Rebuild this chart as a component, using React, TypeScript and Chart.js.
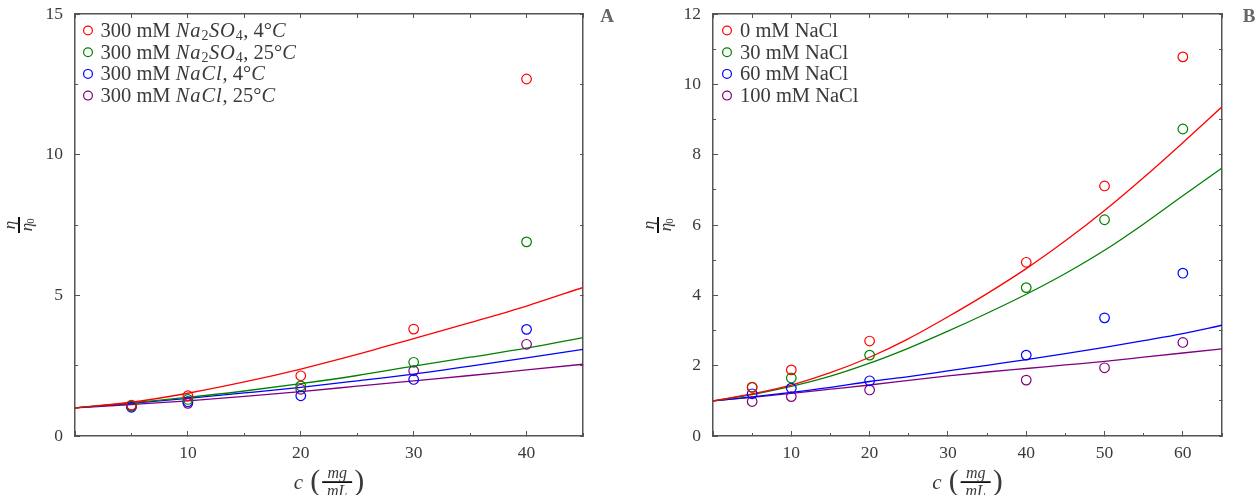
import React, { useEffect, useRef } from "react";
import { Chart, registerables } from "chart.js";
Chart.register(...registerables);

const FONT = "'Liberation Serif', 'DejaVu Serif', serif";
const TEXT = "#3a3a3a";
const FRAME = "#555555";
const colors = ["#ff0000", "#008000", "#0000ff", "#800080"];

// ---------- Panel A data ----------
const concA = [5, 10, 20, 30, 40];
const ptsA_na2so4_4C = [1.1, 1.43, 2.14, 3.8, 12.69];
const ptsA_na2so4_25C = [1.07, 1.3, 1.78, 2.62, 6.9];
const ptsA_nacl_4C = [1.02, 1.22, 1.43, 2.01, 3.79];
const ptsA_nacl_25C = [1.06, 1.16, 1.66, 2.32, 3.26];
const fitXA = [0, 5, 10, 15, 20, 25, 30, 35, 40, 45];
const fitA_na2so4_4C = [1.0, 1.2, 1.52, 1.92, 2.38, 2.9, 3.46, 4.03, 4.62, 5.28];
const fitA_na2so4_25C = [1.0, 1.18, 1.37, 1.6, 1.86, 2.15, 2.48, 2.8, 3.12, 3.5];
const fitA_nacl_4C = [1.0, 1.16, 1.34, 1.53, 1.73, 1.96, 2.2, 2.48, 2.78, 3.08];
const fitA_nacl_25C = [1.0, 1.12, 1.25, 1.41, 1.58, 1.77, 1.96, 2.15, 2.35, 2.55];

// ---------- Panel B data ----------
const concB = [5, 10, 20, 40, 50, 60];
const ptsB_0 = [1.38, 1.88, 2.7, 4.94, 7.11, 10.78];
const ptsB_30 = [1.39, 1.65, 2.3, 4.22, 6.15, 8.73];
const ptsB_60 = [1.2, 1.36, 1.57, 2.3, 3.36, 4.63];
const ptsB_100 = [0.98, 1.12, 1.31, 1.59, 1.94, 2.66];
const fitXB = [0, 5, 10, 15, 20, 25, 30, 35, 40, 45, 50, 55, 60, 65];
const fitB_0 = [1.0, 1.2, 1.45, 1.8, 2.24, 2.77, 3.39, 4.05, 4.76, 5.55, 6.41, 7.35, 8.34, 9.36];
const fitB_30 = [1.0, 1.18, 1.41, 1.7, 2.07, 2.5, 2.98, 3.49, 4.03, 4.62, 5.28, 6.03, 6.83, 7.62];
const fitB_60 = [1.0, 1.11, 1.24, 1.38, 1.55, 1.69, 1.85, 2.01, 2.17, 2.34, 2.52, 2.71, 2.91, 3.15];
const fitB_100 = [1.0, 1.1, 1.21, 1.33, 1.45, 1.58, 1.71, 1.82, 1.92, 2.02, 2.12, 2.24, 2.36, 2.48];

// ---------- Axis ticks ----------
const xTicksA = { max: 45, major: 10, minor: 5 };
const yTicksA = { max: 15, major: 5, minor: 2.5 };
const xTicksB = { max: 65, major: 10, minor: 5 };
const yTicksB = { max: 12, major: 2, minor: 1 };

// ---------- Legend labels (r = roman, i = italic, s = subscript) ----------
type Seg = [string, "r" | "i" | "s"];
const legendA: Seg[][] = [
  [["300 mM ", "r"], ["Na", "i"], ["2", "s"], ["SO", "i"], ["4", "s"], [", 4°", "r"], ["C", "i"]],
  [["300 mM ", "r"], ["Na", "i"], ["2", "s"], ["SO", "i"], ["4", "s"], [", 25°", "r"], ["C", "i"]],
  [["300 mM ", "r"], ["NaCl", "i"], [", 4°", "r"], ["C", "i"]],
  [["300 mM ", "r"], ["NaCl", "i"], [", 25°", "r"], ["C", "i"]],
];
const legendB: Seg[][] = [
  [["0 mM NaCl", "r"]],
  [["30 mM NaCl", "r"]],
  [["60 mM NaCl", "r"]],
  [["100 mM NaCl", "r"]],
];

interface Panel {
  x: number[];
  pts: number[][];
  fitX: number[];
  fits: number[][];
  xt: { max: number; major: number; minor: number };
  yt: { max: number; major: number; minor: number };
  legend: Seg[][];
  letter: string;
  yAxisWidth: number;
  padRight: number;
  yTitleX: number;
  legendX: number;
  textX: number;
  letterX: number;
}

const panelA: Panel = {
  x: concA,
  pts: [ptsA_na2so4_4C, ptsA_na2so4_25C, ptsA_nacl_4C, ptsA_nacl_25C],
  fitX: fitXA,
  fits: [fitA_na2so4_4C, fitA_na2so4_25C, fitA_nacl_4C, fitA_nacl_25C],
  xt: xTicksA,
  yt: yTicksA,
  legend: legendA,
  letter: "A",
  yAxisWidth: 75,
  padRight: 47,
  yTitleX: 19,
  legendX: 88,
  textX: 100.5,
  letterX: 607,
};

const panelB: Panel = {
  x: concB,
  pts: [ptsB_0, ptsB_30, ptsB_60, ptsB_100],
  fitX: fitXB,
  fits: [fitB_0, fitB_30, fitB_60, fitB_100],
  xt: xTicksB,
  yt: yTicksB,
  legend: legendB,
  letter: "B",
  yAxisWidth: 83,
  padRight: 38,
  yTitleX: 28,
  legendX: 97,
  textX: 110,
  letterX: 619,
};

const LEG_SIZE = 20.5;

function drawSegs(ctx: CanvasRenderingContext2D, segs: Seg[], x: number, y: number, size: number) {
  let cx = x;
  for (const [t, st] of segs) {
    if (st === "s") {
      ctx.font = `${Math.round(size * 0.7)}px ${FONT}`;
      ctx.fillText(t, cx, y + size * 0.25);
      cx += ctx.measureText(t).width + 0.5;
    } else if (st === "i") {
      ctx.font = `italic ${size}px ${FONT}`;
      for (const ch of t) {
        ctx.fillText(ch, cx, y);
        cx += ctx.measureText(ch).width + 0.9;
      }
    } else {
      ctx.font = `${size}px ${FONT}`;
      ctx.fillText(t, cx, y);
      cx += ctx.measureText(t).width;
    }
  }
}

function makePlugin(p: Panel) {
  return {
    id: "decor" + p.letter,
    afterDraw(chart: any) {
      const ctx: CanvasRenderingContext2D = chart.ctx;
      const ca = chart.chartArea;
      ctx.save();
      ctx.fillStyle = TEXT;
      ctx.textBaseline = "middle";
      ctx.textAlign = "left";
      // legend
      const rowH = 21.7;
      p.legend.forEach((segs, i) => {
        const cy = 30.5 + i * rowH;
        ctx.beginPath();
        ctx.arc(p.legendX, cy, 4.4, 0, Math.PI * 2);
        ctx.strokeStyle = colors[i];
        ctx.lineWidth = 1.2;
        ctx.stroke();
        ctx.fillStyle = TEXT;
        drawSegs(ctx, segs, p.textX, cy + 1, LEG_SIZE);
      });
      // panel letter
      ctx.font = `bold 19px ${FONT}`;
      ctx.fillStyle = "#666";
      ctx.textAlign = "center";
      ctx.fillText(p.letter, p.letterX, 17);

      // x title: c (mg / mL)
      ctx.fillStyle = TEXT;
      const cxm = (ca.left + ca.right) / 2;
      const ty = 482;
      ctx.font = `italic 21px ${FONT}`;
      const wC = ctx.measureText("c").width;
      ctx.font = `30px ${FONT}`;
      const wP = ctx.measureText("(").width;
      const fracW = 30;
      const total = wC + 7 + wP + 2 + fracW + 2 + wP;
      let xx = cxm - total / 2;
      ctx.textAlign = "left";
      ctx.font = `italic 21px ${FONT}`;
      ctx.fillText("c", xx, ty + 1);
      xx += wC + 7;
      ctx.font = `30px ${FONT}`;
      ctx.fillText("(", xx, ty);
      xx += wP + 2;
      ctx.fillStyle = "#111";
      ctx.fillRect(xx, ty - 0.8, fracW, 1.8);
      ctx.fillStyle = TEXT;
      ctx.textAlign = "center";
      ctx.font = `italic 16px ${FONT}`;
      ctx.fillText("mg", xx + fracW / 2, ty - 8);
      ctx.fillText("mL", xx + fracW / 2, ty + 10);
      xx += fracW + 2;
      ctx.textAlign = "left";
      ctx.font = `30px ${FONT}`;
      ctx.fillText(")", xx, ty);

      // y title: eta / eta0 (rotated fraction)
      const cym = (ca.top + ca.bottom) / 2;
      ctx.translate(p.yTitleX, cym);
      ctx.rotate(-Math.PI / 2);
      ctx.fillStyle = "#111";
      ctx.fillRect(-8, -1, 16, 2);
      ctx.fillStyle = TEXT;
      ctx.textAlign = "center";
      ctx.font = `italic 17px ${FONT}`;
      ctx.fillText("η", 0, -8);
      ctx.fillText("η", -2, 8.5);
      ctx.font = `11px ${FONT}`;
      ctx.fillText("0", 4, 12);
      ctx.restore();
    },
  };
}

function buildConfig(p: Panel): any {
  const datasets: any[] = [];
  p.pts.forEach((ys, i) => {
    datasets.push({
      label: "points" + i,
      data: p.x.map((x, j) => ({ x, y: ys[j] })),
      showLine: false,
      pointStyle: "circle",
      pointRadius: 4.8,
      pointBorderWidth: 1.2,
      pointBorderColor: colors[i],
      pointBackgroundColor: "rgba(0,0,0,0)",
      borderColor: colors[i],
      backgroundColor: "rgba(0,0,0,0)",
      xAxisID: "x",
      yAxisID: "y",
    });
  });
  p.fits.forEach((ys, i) => {
    datasets.push({
      label: "fit" + i,
      data: p.fitX.map((x, j) => ({ x, y: ys[j] })),
      showLine: true,
      pointRadius: 0,
      borderWidth: 1.3,
      borderColor: colors[i],
      backgroundColor: "rgba(0,0,0,0)",
      cubicInterpolationMode: "monotone",
      fill: false,
      xAxisID: "x",
      yAxisID: "y",
    });
  });

  const tickFont = { family: FONT, size: 17.5 };
  const zeroPad = (s: any) => {
    s.paddingTop = 0;
    s.paddingBottom = 0;
    s.paddingLeft = 0;
    s.paddingRight = 0;
  };
  const hidden = (pos: string, min: number, max: number, step: number, len: number, border: boolean, horiz: boolean) => ({
    type: "linear",
    position: pos,
    min,
    max,
    weight: 0,
    ticks: { stepSize: step, display: false, includeBounds: false, autoSkip: false },
    grid: { drawOnChartArea: false, tickLength: -len, tickColor: FRAME, tickWidth: 1 },
    border: { display: border, color: FRAME, width: 1.5 },
    afterFit: (s: any) => {
      if (horiz) s.height = 0;
      else s.width = 0;
      zeroPad(s);
    },
  });

  return {
    type: "scatter",
    data: { datasets },
    plugins: [makePlugin(p)],
    options: {
      animation: false,
      responsive: false,
      maintainAspectRatio: false,
      events: [],
      layout: { padding: { left: 0, right: p.padRight, top: 14, bottom: 0 } },
      plugins: { legend: { display: false }, tooltip: { enabled: false }, title: { display: false } },
      scales: {
        x: {
          type: "linear",
          position: "bottom",
          min: 0,
          max: p.xt.max,
          weight: 1,
          ticks: {
            stepSize: p.xt.major,
            includeBounds: false,
            autoSkip: false,
            maxRotation: 0,
            color: TEXT,
            font: tickFont,
            padding: 12,
            callback: (v: number) => (v === 0 ? "" : String(v)),
          },
          grid: { drawOnChartArea: false, tickLength: -5, tickColor: FRAME, tickWidth: 1 },
          border: { display: true, color: FRAME, width: 1.5 },
          afterFit: (s: any) => {
            s.height = 59;
            zeroPad(s);
          },
        },
        xMinor: hidden("bottom", 0, p.xt.max, p.xt.minor, 3, false, true),
        xTop: hidden("top", 0, p.xt.max, p.xt.minor, 4, true, true),
        y: {
          type: "linear",
          position: "left",
          min: 0,
          max: p.yt.max,
          weight: 1,
          ticks: {
            stepSize: p.yt.major,
            includeBounds: false,
            autoSkip: false,
            color: TEXT,
            font: tickFont,
            padding: 17,
            callback: (v: number) => String(v),
          },
          grid: { drawOnChartArea: false, tickLength: -5, tickColor: FRAME, tickWidth: 1 },
          border: { display: true, color: FRAME, width: 1.5 },
          afterFit: (s: any) => {
            s.width = p.yAxisWidth;
            zeroPad(s);
          },
        },
        yMinor: hidden("left", 0, p.yt.max, p.yt.minor, 3, false, false),
        yRight: hidden("right", 0, p.yt.max, p.yt.minor, 3, true, false),
      },
    },
  };
}

function PanelChart({ panel }: { panel: Panel }) {
  const ref = useRef<HTMLCanvasElement | null>(null);
  useEffect(() => {
    if (!ref.current) return;
    const chart = new Chart(ref.current, buildConfig(panel));
    return () => chart.destroy();
  }, [panel]);
  return <canvas ref={ref} width={630} height={495} style={{ display: "block", width: 630, height: 495 }} />;
}

export default function App() {
  return (
    <div
      style={{
        position: "absolute",
        left: 0,
        top: 0,
        width: 1260,
        height: 495,
        display: "flex",
        background: "#ffffff",
      }}
    >
      <PanelChart panel={panelA} />
      <PanelChart panel={panelB} />
    </div>
  );
}
